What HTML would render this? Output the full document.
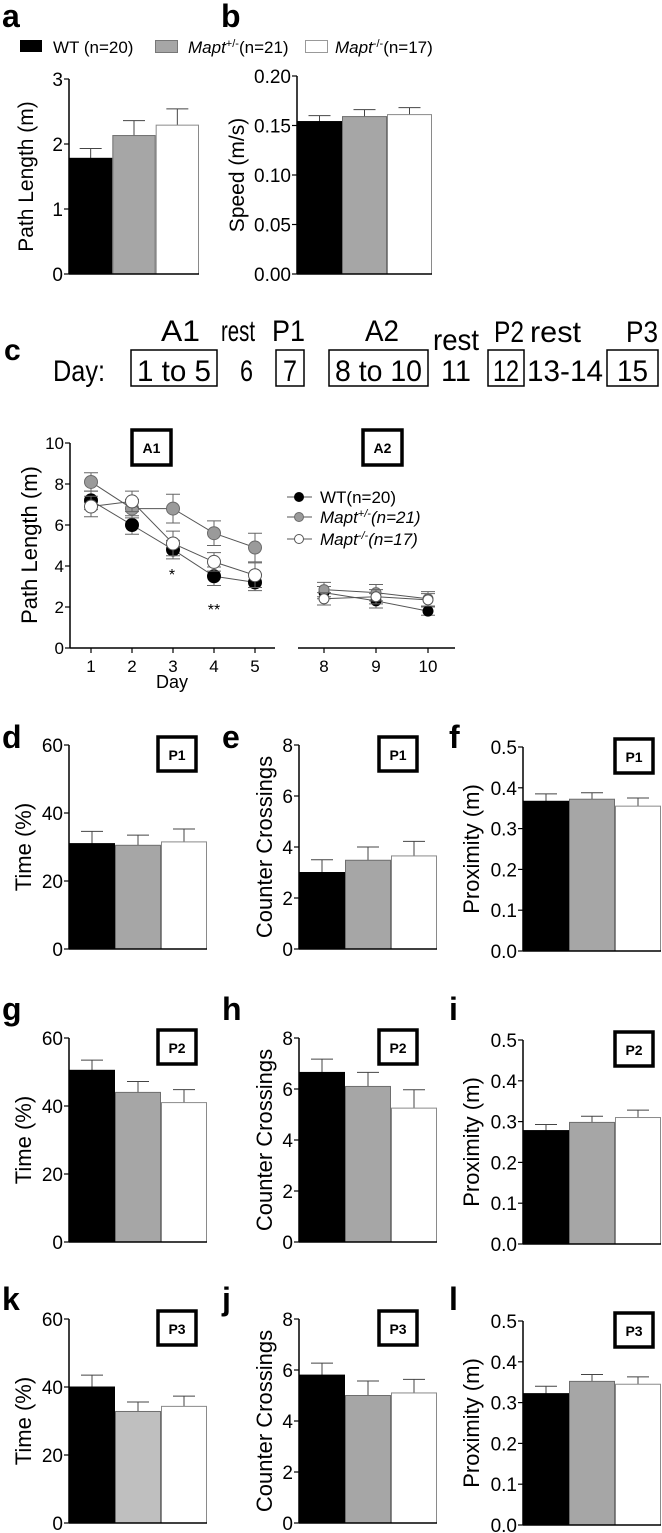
<!DOCTYPE html>
<html><head><meta charset="utf-8"><style>
html,body{margin:0;padding:0;background:#fff;}
svg{display:block;font-family:"Liberation Sans",Arial,sans-serif;}
</style></head><body>
<svg id="fig" width="662" height="1533" viewBox="0 0 662 1533" xmlns="http://www.w3.org/2000/svg">
<g font-size="17">
<rect x="20" y="40" width="22" height="12" fill="#000"/>
<text x="53" y="53">WT (n=20)</text>
<rect x="155.5" y="40.5" width="22" height="12" fill="#a6a6a6" stroke="#777"/>
<text x="188" y="53"><tspan font-style="italic">Mapt</tspan><tspan font-size="11" dy="-6">+/-</tspan><tspan dy="6">(n=21)</tspan></text>
<rect x="305.5" y="40.5" width="22" height="12" fill="#fff" stroke="#999"/>
<text x="335" y="53"><tspan font-style="italic">Mapt</tspan><tspan font-size="11" dy="-6">-/-</tspan><tspan dy="6">(n=17)</tspan></text>
</g>
<g font-size="30">
<text x="4" y="360" font-weight="bold" font-size="30">c</text>
<text x="161" y="341" textLength="39" lengthAdjust="spacingAndGlyphs">A1</text>
<text x="221" y="341" textLength="34" lengthAdjust="spacingAndGlyphs">rest</text>
<text x="272" y="341" textLength="33" lengthAdjust="spacingAndGlyphs">P1</text>
<text x="365" y="341" textLength="34" lengthAdjust="spacingAndGlyphs">A2</text>
<text x="433" y="350" textLength="46" lengthAdjust="spacingAndGlyphs">rest</text>
<text x="494" y="342" textLength="30" lengthAdjust="spacingAndGlyphs">P2</text>
<text x="530" y="342" textLength="51" lengthAdjust="spacingAndGlyphs">rest</text>
<text x="626" y="342" textLength="32" lengthAdjust="spacingAndGlyphs">P3</text>
<text x="53" y="381" textLength="52" lengthAdjust="spacingAndGlyphs">Day:</text>
<rect x="131" y="350" width="86" height="36" fill="none" stroke="#000" stroke-width="1.5"/>
<text x="137" y="381" textLength="74" lengthAdjust="spacingAndGlyphs">1 to 5</text>
<text x="240" y="381" textLength="13" lengthAdjust="spacingAndGlyphs">6</text>
<rect x="276" y="350" width="28" height="36" fill="none" stroke="#000" stroke-width="1.5"/>
<text x="283" y="381" textLength="14" lengthAdjust="spacingAndGlyphs">7</text>
<rect x="329" y="350" width="99" height="36" fill="none" stroke="#000" stroke-width="1.5"/>
<text x="335" y="381" textLength="87" lengthAdjust="spacingAndGlyphs">8 to 10</text>
<text x="441" y="381" textLength="30" lengthAdjust="spacingAndGlyphs">11</text>
<rect x="488" y="350" width="36" height="36" fill="none" stroke="#000" stroke-width="1.5"/>
<text x="493" y="381" textLength="26" lengthAdjust="spacingAndGlyphs">12</text>
<text x="527" y="381" textLength="76" lengthAdjust="spacingAndGlyphs">13-14</text>
<rect x="607" y="350" width="51" height="36" fill="none" stroke="#000" stroke-width="1.5"/>
<text x="617" y="381" textLength="31" lengthAdjust="spacingAndGlyphs">15</text>
</g>
</svg>
<script>
// ---- bar chart data ----
const groups = ["WT", "Mapt+/-", "Mapt-/-"];
const aVals = [1.78, 2.13, 2.29];
const aErr = [0.15, 0.23, 0.25];
const bVals = [0.154, 0.159, 0.161];
const bErr = [0.006, 0.007, 0.007];
const dVals = [31, 30.5, 31.5];
const dErr = [3.6, 3.0, 3.8];
const eVals = [3.0, 3.48, 3.65];
const eErr = [0.5, 0.52, 0.57];
const fVals = [0.367, 0.372, 0.355];
const fErr = [0.018, 0.016, 0.02];
const gVals = [50.5, 44.0, 41.0];
const gErr = [3.0, 3.2, 3.8];
const hVals = [6.65, 6.1, 5.25];
const hErr = [0.52, 0.55, 0.72];
const iVals = [0.278, 0.298, 0.31];
const iErr = [0.015, 0.015, 0.018];
const kVals = [40.0, 32.8, 34.3];
const kErr = [3.5, 2.8, 3.0];
const jVals = [5.8, 5.0, 5.1];
const jErr = [0.47, 0.57, 0.53];
const lVals = [0.322, 0.352, 0.345];
const lErr = [0.018, 0.017, 0.018];
const timeTicks = ["0", "20", "40", "60"];
const crossTicks = ["0", "2", "4", "6", "8"];
const proxTicks = ["0.0", "0.1", "0.2", "0.3", "0.4", "0.5"];
const pathTicks = ["0", "1", "2", "3"];
const speedTicks = ["0.00", "0.05", "0.10", "0.15", "0.20"];
// ---- line chart data ----
const daysA1 = [1, 2, 3, 4, 5];
const daysA2 = [8, 9, 10];
const wtA1 = [7.2, 6.0, 4.8, 3.5, 3.2];
const wtA1Err = [0.45, 0.45, 0.45, 0.45, 0.4];
const hetA1 = [8.1, 6.8, 6.8, 5.6, 4.9];
const hetA1Err = [0.45, 0.45, 0.7, 0.6, 0.7];
const koA1 = [6.9, 7.15, 5.1, 4.2, 3.55];
const koA1Err = [0.5, 0.5, 0.6, 0.45, 0.6];
const wtA2 = [2.7, 2.3, 1.8];
const wtA2Err = [0.3, 0.35, 0.2];
const hetA2 = [2.85, 2.7, 2.4];
const hetA2Err = [0.35, 0.4, 0.35];
const koA2 = [2.4, 2.5, 2.35];
const koA2Err = [0.3, 0.35, 0.3];
const lineTicks = ["0", "2", "4", "6", "8", "10"];

const NS = "http://www.w3.org/2000/svg";
const svg = document.getElementById("fig");
function mk(tag, attrs, parent) {
  const el = document.createElementNS(NS, tag);
  for (const k in attrs) el.setAttribute(k, attrs[k]);
  (parent || svg).appendChild(el);
  return el;
}
const fills = ["#000", "#a6a6a6", "#fff"];
const strokes = ["#000", "#6e6e6e", "#8a8a8a"];

function barChart(o) {
  const g = mk("g", {});
  
  
  const ticks = o.ticks;
  const maxV = parseFloat(ticks[ticks.length - 1]);
  const y = v => o.y0 - (v / maxV) * (o.y0 - o.yTop);
  const bw = (o.x1 - o.x0) / o.vals.length;
  o.vals.forEach((v, i) => {
    const bx = o.x0 + i * bw;
    const top = y(v), et = y(v + o.err[i]);
    const eb = mk("line", {x1: bx + bw / 2, x2: bx + bw / 2, y1: top, y2: et, stroke: "#444", "stroke-width": 1}, g);
    
    
    const cap = mk("line", {x1: bx + bw / 2 - 11, x2: bx + bw / 2 + 11, y1: et, y2: et, stroke: "#444", "stroke-width": 1}, g);
    
    
    const r = mk("rect", {x: bx + 0.5, y: top, width: bw - 1, height: o.y0 - top, fill: (o.fills || fills)[i], stroke: strokes[i], "stroke-width": 1}, g);
    
    
  });
  const ax = mk("line", {x1: o.x0, x2: o.x0, y1: o.yTop, y2: o.y0, stroke: "#000", "stroke-width": 1.5}, g);
  
  
  const bx = mk("line", {x1: o.x0, x2: o.x1, y1: o.y0, y2: o.y0, stroke: "#000", "stroke-width": 1.5}, g);
  
  
  ticks.forEach(t => {
    const ty = y(parseFloat(t));
    const tl = mk("line", {x1: o.x0 - 5, x2: o.x0, y1: ty, y2: ty, stroke: "#000", "stroke-width": 1.2}, g);
    
    
    const tx = mk("text", {x: o.x0 - 6, y: ty + 7, "text-anchor": "end", "font-size": 19}, g);
    tx.textContent = t;
    
    
  });
  const ttl = mk("text", {x: 0, y: 0, "text-anchor": "middle", "font-size": o.titleSize || 22, transform: "translate(" + o.titleX + "," + ((o.y0 + o.yTop) / 2) + ") rotate(-90)"}, g);
  ttl.textContent = o.title;
  
  
  if (o.label) {
    const lb = mk("text", {x: o.labelX, y: o.labelY, "font-size": 32, "font-weight": "bold"}, g);
    lb.textContent = o.label;
    
    
  }
  if (o.box) {
    const bb = mk("rect", {x: o.boxX, y: o.yTop - 8, width: 38, height: 34, fill: "#fff", stroke: "#000", "stroke-width": 3.5}, g);
    
    
    const bt = mk("text", {x: o.boxX + 19, y: o.yTop + 15, "text-anchor": "middle", "font-size": 14, "font-weight": "bold"}, g);
    bt.textContent = o.box;
    
    
  }
}

barChart({name: "chart-a-path-length", vals: aVals, err: aErr, ticks: pathTicks, x0: 69, x1: 199, yTop: 79, y0: 274, title: "Path Length (m)", titleX: 33, titleSize: 21, label: "a", labelX: 2, labelY: 27});
barChart({name: "chart-b-speed", vals: bVals, err: bErr, ticks: speedTicks, x0: 297, x1: 432, yTop: 76, y0: 274, title: "Speed (m/s)", titleX: 244, titleSize: 21, label: "b", labelX: 221, labelY: 27});

const rows = [
  {top: 745, base: 949, lab: 748, box: "P1", L: ["d", "e", "f"], V: [dVals, eVals, fVals], E: [dErr, eErr, fErr]},
  {top: 1038, base: 1242, lab: 1020, box: "P2", L: ["g", "h", "i"], V: [gVals, hVals, iVals], E: [gErr, hErr, iErr]},
  {top: 1319, base: 1523, lab: 1310, box: "P3", L: ["k", "j", "l"], V: [kVals, jVals, lVals], E: [kErr, jErr, lErr]}
];
rows.forEach((r, ri) => {
  barChart({name: "chart-" + r.L[0] + "-time", vals: r.V[0], err: r.E[0], ticks: timeTicks, x0: 69, x1: 207, yTop: r.top, y0: r.base, title: "Time (%)", titleX: 31, label: r.L[0], labelX: 2, labelY: r.lab, box: r.box, boxX: 158, fills: ri === 2 ? ["#000", "#bfbfbf", "#fff"] : fills});
  barChart({name: "chart-" + r.L[1] + "-counter-crossings", vals: r.V[1], err: r.E[1], ticks: crossTicks, x0: 299, x1: 437, yTop: r.top, y0: r.base, title: "Counter Crossings", titleX: 272, label: r.L[1], labelX: 222, labelY: r.lab, box: r.box, boxX: 379});
  barChart({name: "chart-" + r.L[2] + "-proximity", vals: r.V[2], err: r.E[2], ticks: proxTicks, x0: 523, x1: 661, yTop: r.top + 2, y0: r.base + 2, title: "Proximity (m)", titleX: 479, label: r.L[2], labelX: 449, labelY: r.lab, box: r.box, boxX: 615});
});

// ---- line chart c ----
(function () {
  const g = mk("g", {});
  
  
  const y = v => 648 - v / 10 * 205;
  const xA1 = d => 91 + (d - 1) * 41;
  const xA2 = d => 324 + (d - 8) * 52;
  const ya = mk("line", {x1: 70, x2: 70, y1: 443, y2: 648, stroke: "#000", "stroke-width": 1.5}, g);
  
  
  const xa1 = mk("line", {x1: 70, x2: 275, y1: 648, y2: 648, stroke: "#000", "stroke-width": 1.5}, g);
  
  
  const xa2 = mk("line", {x1: 298, x2: 455, y1: 648, y2: 648, stroke: "#000", "stroke-width": 1.5}, g);
  
  
  lineTicks.forEach(t => {
    const ty = y(parseFloat(t));
    const tl = mk("line", {x1: 65, x2: 70, y1: ty, y2: ty, stroke: "#000", "stroke-width": 1.2}, g);
    
    
    const tx = mk("text", {x: 64, y: ty + 6, "text-anchor": "end", "font-size": 17}, g);
    tx.textContent = t;
    
    
  });
  daysA1.map(d => [d, xA1(d)]).concat(daysA2.map(d => [d, xA2(d)])).forEach(([d, x]) => {
    const tl = mk("line", {x1: x, x2: x, y1: 648, y2: 653, stroke: "#000", "stroke-width": 1.2}, g);
    
    
    const tx = mk("text", {x: x, y: 672, "text-anchor": "middle", "font-size": 17}, g);
    tx.textContent = d;
    
    
  });
  const dl = mk("text", {x: 172, y: 688, "text-anchor": "middle", "font-size": 18}, g);
  dl.textContent = "Day";
  
  
  const yt = mk("text", {x: 0, y: 0, "text-anchor": "middle", "font-size": 22, transform: "translate(37,545) rotate(-90)"}, g);
  yt.textContent = "Path Length (m)";
  
  
  [["A1", 132], ["A2", 363]].forEach(([t, bx]) => {
    const r = mk("rect", {x: bx, y: 430, width: 39, height: 35, fill: "#fff", stroke: "#000", "stroke-width": 3.5}, g);
    
    
    const tx = mk("text", {x: bx + 19.5, y: 453, "text-anchor": "middle", "font-size": 14, "font-weight": "bold"}, g);
    tx.textContent = t;
    
    
  });
  const series = [
    {n: "wt", a1: wtA1, e1: wtA1Err, a2: wtA2, e2: wtA2Err, fill: "#000", st: "#000"},
    {n: "het", a1: hetA1, e1: hetA1Err, a2: hetA2, e2: hetA2Err, fill: "#9a9a9a", st: "#6a6a6a"},
    {n: "ko", a1: koA1, e1: koA1Err, a2: koA2, e2: koA2Err, fill: "#fff", st: "#555"}
  ];
  function drawSeg(s, days, vals, errs, xf, rad, seg) {
    const pts = days.map((d, i) => xf(d) + "," + y(vals[i])).join(" ");
    const pl = mk("polyline", {points: pts, fill: "none", stroke: "#555", "stroke-width": 1}, g);
    
    
    days.forEach((d, i) => {
      const x = xf(d), v = vals[i], e = errs[i];
      const eb = mk("path", {d: "M" + x + "," + y(v - e) + "V" + y(v + e) + "M" + (x - 7) + "," + y(v - e) + "h14M" + (x - 7) + "," + y(v + e) + "h14", stroke: "#666", "stroke-width": 1, fill: "none"}, g);
      
      
    });
    days.forEach((d, i) => {
      const c = mk("circle", {cx: xf(d), cy: y(vals[i]), r: rad, fill: s.fill, stroke: s.st, "stroke-width": 1}, g);
      
      
    });
  }
  series.forEach(s => {
    drawSeg(s, daysA1, s.a1, s.e1, xA1, 6.5, "a1");
    drawSeg(s, daysA2, s.a2, s.e2, xA2, 5, "a2");
  });
  const s1 = mk("text", {x: 172, y: 580, "text-anchor": "middle", "font-size": 16}, g);
  s1.textContent = "*";
  
  
  const s2 = mk("text", {x: 214, y: 615, "text-anchor": "middle", "font-size": 16}, g);
  s2.textContent = "**";
  
  
  const legY = [497, 517, 539];
  const lg = mk("g", {}, g);
  
  
  series.forEach((s, i) => {
    const ln = mk("line", {x1: 287, x2: 312, y1: legY[i], y2: legY[i], stroke: "#555", "stroke-width": 1}, lg);
    
    
    const c = mk("circle", {cx: 299, cy: legY[i], r: 4.5, fill: s.fill, stroke: s.st}, lg);
    
    
  });
  const t1 = mk("text", {x: 320, y: 503, "font-size": 17}, lg);
  t1.textContent = "WT(n=20)";
  
  
  const t2 = mk("text", {x: 320, y: 523, "font-size": 17, "font-style": "italic"}, lg);
  t2.innerHTML = 'Mapt<tspan font-size="11" dy="-6">+/-</tspan><tspan dy="6">(n=21)</tspan>';
  
  
  const t3 = mk("text", {x: 320, y: 545, "font-size": 17, "font-style": "italic"}, lg);
  t3.innerHTML = 'Mapt<tspan font-size="11" dy="-6">-/-</tspan><tspan dy="6">(n=17)</tspan>';
  
  
})();
</script>
</body></html>
